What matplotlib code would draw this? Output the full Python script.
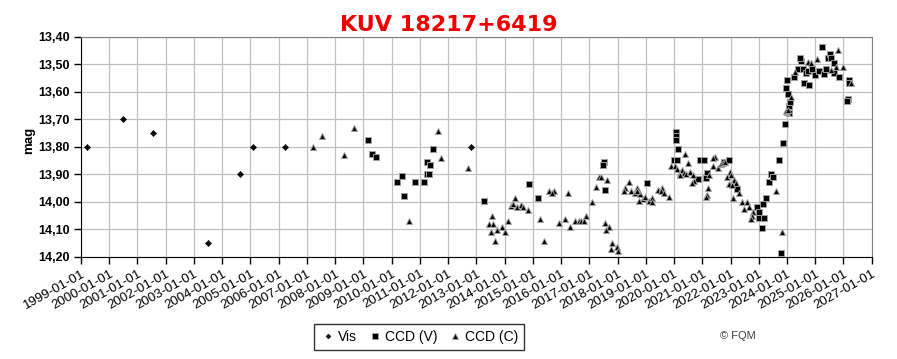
import matplotlib
matplotlib.use("Agg")
import matplotlib.pyplot as plt
from matplotlib.transforms import ScaledTranslation

plt.rcParams['font.family'] = ['Liberation Sans', 'DejaVu Sans']

# Datos (fecha en años decimales, magnitud)
vis_t = [1999.20, 2000.48, 2001.54, 2003.51, 2004.62, 2005.08, 2006.21, 2012.80]
vis_m = [13.80, 13.70, 13.75, 14.15, 13.90, 13.80, 13.80, 13.80]

ccdv_t = [2009.16, 2009.30, 2009.45, 2010.18, 2010.37, 2010.44, 2010.82, 2011.14,
          2011.24, 2011.35, 2011.24, 2011.33, 2011.45, 2013.27, 2014.86, 2015.18,
          2017.52, 2017.50, 2017.56, 2019.04, 2020.07, 2020.07, 2020.07, 2020.14,
          2020.00, 2020.12, 2020.85, 2020.93, 2021.05, 2021.16, 2021.12, 2021.77,
          2021.95, 2022.24, 2022.93, 2023.01, 2023.02, 2023.17, 2023.10, 2023.15,
          2023.26, 2023.36, 2023.43, 2023.50, 2023.72, 2023.85, 2023.92, 2024.06,
          2023.78, 2024.08, 2024.11, 2024.05, 2023.95, 2023.99, 2024.25, 2024.39,
          2024.51, 2024.46, 2024.58, 2024.67, 2024.73, 2024.89, 2024.59, 2024.79,
          2024.99, 2025.14, 2025.31, 2025.23, 2025.38, 2025.46, 2025.52, 2025.56,
          2025.66, 2025.68, 2025.83, 2026.18, 2026.21, 2026.16, 2026.14]
ccdv_m = [13.776, 13.825, 13.836, 13.927, 13.906, 13.978, 13.927, 13.927,
          13.855, 13.865, 13.899, 13.899, 13.808, 13.996, 13.935, 13.985,
          13.855, 13.867, 13.957, 13.933, 13.745, 13.760, 13.776, 13.808,
          13.848, 13.848, 13.917, 13.848, 13.848, 13.897, 13.915, 13.855,
          13.848, 13.955, 14.018, 14.036, 14.058, 14.058, 14.097, 14.008,
          13.987, 13.927, 13.899, 13.909, 13.848, 13.785, 13.717, 13.676,
          14.185, 13.652, 13.637, 13.607, 13.585, 13.557, 13.545, 13.516,
          13.488, 13.477, 13.516, 13.533, 13.524, 13.519, 13.567, 13.575,
          13.540, 13.525, 13.535, 13.436, 13.516, 13.476, 13.464, 13.479,
          13.495, 13.531, 13.545, 13.557, 13.567, 13.625, 13.634]

ccdc_t = [2007.23, 2007.53, 2008.32, 2008.67, 2010.63, 2011.65, 2011.75, 2012.71,
          2013.54, 2013.46, 2013.60, 2013.52, 2013.74, 2013.92, 2014.03, 2013.66,
          2014.13, 2014.37, 2014.24, 2014.31, 2014.44, 2014.58, 2014.66, 2014.83,
          2015.25, 2015.41, 2015.57, 2015.75, 2015.68, 2015.94, 2016.14, 2016.25,
          2016.33, 2016.49, 2016.63, 2016.69, 2016.81, 2016.88, 2017.11, 2017.23,
          2017.35, 2017.42, 2017.63, 2017.54, 2017.70, 2017.59, 2017.80, 2017.77,
          2017.97, 2018.02, 2018.39, 2018.26, 2018.24, 2018.47, 2018.68, 2018.61,
          2018.79, 2018.70, 2018.89, 2018.98, 2018.77, 2019.12, 2019.22, 2019.21,
          2019.44, 2019.56, 2019.53, 2019.66, 2019.82, 2020.39, 2020.48, 2019.89,
          2020.03, 2020.12, 2020.21, 2020.28, 2020.35, 2020.42, 2020.57, 2020.66,
          2020.72, 2020.64, 2020.21, 2021.25, 2021.20, 2021.16, 2021.13, 2021.45,
          2021.39, 2021.39, 2021.57, 2021.65, 2021.72, 2021.80, 2021.87, 2021.98,
          2022.02, 2022.13, 2022.19, 2021.95, 2022.05, 2022.31, 2022.09, 2022.40,
          2022.58, 2022.64, 2022.48, 2022.81, 2022.77, 2022.72, 2023.62, 2023.81,
          2024.01, 2023.96, 2024.05, 2024.14, 2024.29, 2024.73, 2024.84, 2025.07,
          2025.55, 2025.75, 2025.82, 2025.97, 2026.27]
ccdc_m = [13.800, 13.760, 13.830, 13.731, 14.069, 13.742, 13.840, 13.879,
          14.051, 14.081, 14.081, 14.110, 14.103, 14.092, 14.109, 14.142,
          14.069, 13.988, 14.016, 14.009, 14.019, 14.012, 14.020, 14.030,
          14.063, 14.142, 13.960, 13.960, 13.969, 14.079, 14.063, 13.969,
          14.091, 14.069, 14.069, 14.069, 14.069, 14.051, 14.000, 13.948,
          13.909, 13.909, 13.921, 14.079, 14.091, 14.103, 14.149, 14.172,
          14.164, 14.178, 13.929, 13.951, 13.960, 13.960, 13.949, 13.969,
          13.972, 13.960, 13.990, 13.982, 13.997, 13.997, 13.988, 14.000,
          13.957, 13.951, 13.960, 13.969, 13.982, 13.828, 13.858, 13.869,
          13.869, 13.881, 13.895, 13.885, 13.897, 13.900, 13.891, 13.903,
          13.924, 13.933, 13.903, 13.903, 13.951, 13.976, 13.984, 13.836,
          13.842, 13.870, 13.879, 13.863, 13.860, 13.855, 13.909, 13.891,
          13.903, 13.921, 13.931, 13.936, 13.939, 13.969, 13.988, 14.000,
          14.000, 14.020, 14.028, 14.036, 14.052, 14.062, 13.960, 14.111,
          13.673, 13.670, 13.667, 13.619, 13.528, 13.492, 13.497, 13.480,
          13.522, 13.510, 13.448, 13.510, 13.569]

years = list(range(1999, 2028))
year_labels = [f"{y}-01-01" for y in years]
mag_ticks = [13.40, 13.50, 13.60, 13.70, 13.80, 13.90, 14.00, 14.10, 14.20]
mag_labels = [f"{m:.2f}".replace(".", ",") for m in mag_ticks]

fig = plt.figure(figsize=(8.97, 3.59), dpi=100)
ax = fig.add_axes([0.0903, 0.2850, 0.9718 - 0.0903, 0.8978 - 0.2850])

ax.plot(vis_t, vis_m, 'D', color='black', markersize=3.2, markeredgewidth=0.3,
        label='Vis', zorder=3)
ax.plot(ccdv_t, ccdv_m, 's', color='black', markersize=4.8,
        markeredgecolor='#a0a0a0', markeredgewidth=0.7, label='CCD (V)', zorder=3)
ax.plot(ccdc_t, ccdc_m, '^', color='black', markersize=5,
        markeredgecolor='#a0a0a0', markeredgewidth=0.7, label='CCD (C)', zorder=3)

ax.set_xlim(1999, 2027)
ax.set_ylim(14.20, 13.40)
ax.set_xticks(years)
ax.set_xticklabels(year_labels, rotation=29, ha='right', rotation_mode='anchor',
                   fontsize=9.5)
for lab in ax.get_xticklabels():
    lab.set_transform(lab.get_transform() + ScaledTranslation(-12 / 72, -4 / 72, fig.dpi_scale_trans))
ax.set_yticks(mag_ticks)
ax.set_yticklabels(mag_labels, fontsize=9, fontweight='bold')
ax.tick_params(axis='both', direction='out', length=5, width=1, color='black', pad=3)
ax.grid(True, color='#c0c0c0', linewidth=0.9)
ax.set_axisbelow(True)
for s in ['top', 'right']:
    ax.spines[s].set_color('#808080')
for s in ['left', 'bottom']:
    ax.spines[s].set_color('black')
ax.set_ylabel('mag', fontsize=9.5, fontweight='bold')
ax.yaxis.set_label_coords(-0.058, 0.53)

fig.text(0.5, 0.9145, 'KUV 18217+6419', ha='center', va='baseline',
         fontsize=16, fontweight='bold', color='#ee0000', family='DejaVu Sans')

leg = fig.legend(loc='center', ncol=3, bbox_to_anchor=(0.350, 0.0187, 0.234, 0.0852),
                 mode='expand', frameon=True, fancybox=False, fontsize=10,
                 handletextpad=0.1, borderaxespad=0, markerscale=0.8,
                 handlelength=1.2)
leg.get_frame().set_edgecolor('black')
leg.get_frame().set_linewidth(1)

fig.text(0.8027, 0.0649, '© FQM', ha='left', va='center', fontsize=8, color='#404040')

fig.savefig('out.png', dpi=100)
